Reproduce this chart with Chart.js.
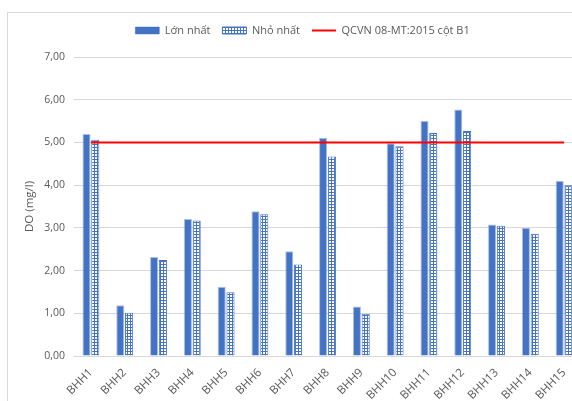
<!DOCTYPE html>
<html>
<head>
<meta charset="utf-8">
<script src="https://cdn.jsdelivr.net/npm/chart.js@4.4.0/dist/chart.umd.min.js"></script>
<style>
  html, body { margin: 0; padding: 0; background: #fff; overflow: hidden; }
  #wrap {
    position: absolute; left: 7px; top: 12px; width: 590px; height: 389px;
    border-left: 1px solid #d9d9d9; border-top: 1px solid #d9d9d9;
  }
</style>
</head>
<body>
<div id="wrap"><canvas id="doChart"></canvas></div>
<script>
// data
const stations = ['BHH1', 'BHH2', 'BHH3', 'BHH4', 'BHH5', 'BHH6', 'BHH7', 'BHH8',
  'BHH9', 'BHH10', 'BHH11', 'BHH12', 'BHH13', 'BHH14', 'BHH15'];
const maxValues = [5.20, 1.19, 2.32, 3.21, 1.62, 3.39, 2.45, 5.11, 1.16, 4.98, 5.50, 5.77, 3.08, 3.00, 4.10];
const minValues = [5.06, 1.01, 2.25, 3.17, 1.49, 3.32, 2.14, 4.67, 0.99, 4.91, 5.22, 5.27, 3.05, 2.86, 4.00];
const limitValue = 5;
const limitLine = stations.map(() => limitValue);
const seriesNames = ['Lớn nhất', 'Nhỏ nhất', 'QCVN 08-MT:2015 cột B1'];

const blue = '#4472C4';
const textColor = '#595959';
const fontFamily = '"Open Sans", "Noto Sans", sans-serif';

// checkered fill for the "min" series
function gridPattern() {
  const tile = document.createElement('canvas');
  tile.width = 3; tile.height = 3;
  const t = tile.getContext('2d');
  t.fillStyle = '#ffffff';
  t.fillRect(0, 0, 3, 3);
  t.fillStyle = blue;
  t.fillRect(2, 0, 1, 3);
  t.fillRect(0, 2, 3, 1);
  return t.createPattern(tile, 'repeat');
}

// more room under the legend, and nudge it a little to the right
const legendTweak = {
  id: 'legendTweak',
  afterInit(chart) {
    const lg = chart.legend;
    const fit = lg.fit;
    lg.fit = function () {
      fit.call(this);
      this.height += 11;
    };
    const draw = lg.draw;
    lg.draw = function () {
      this.ctx.save();
      this.ctx.translate(8, 0);
      draw.call(this);
      this.ctx.restore();
    };
  }
};

const ctx = document.getElementById('doChart').getContext('2d');
const legendStyles = ['rect', 'rect', 'line'];

new Chart(ctx, {
  type: 'bar',
  data: {
    labels: stations,
    datasets: [{
      label: seriesNames[0],
      data: maxValues,
      backgroundColor: blue,
      borderColor: 'rgba(68,114,196,0.45)',
      borderWidth: 1,
      categoryPercentage: 0.52,
      barPercentage: 0.92,
      order: 1
    }, {
      label: seriesNames[1],
      data: minValues,
      backgroundColor: gridPattern(),
      borderColor: blue,
      borderWidth: 1,
      categoryPercentage: 0.52,
      barPercentage: 0.92,
      order: 1
    }, {
      type: 'line',
      label: seriesNames[2],
      data: limitLine,
      borderColor: '#ff0000',
      backgroundColor: '#ff0000',
      borderWidth: 2,
      pointRadius: 0,
      fill: false,
      order: 0
    }]
  },
  plugins: [legendTweak],
  options: {
    responsive: true,
    maintainAspectRatio: false,
    animation: false,
    layout: { padding: { top: 0, left: 0, right: 17, bottom: 0 } },
    plugins: {
      tooltip: { enabled: false },
      legend: {
        position: 'top',
        labels: {
          color: textColor,
          font: { family: fontFamily, size: 11 },
          usePointStyle: true,
          pointStyleWidth: 24,
          boxHeight: 7,
          padding: 12,
          sort: (a, b) => a.datasetIndex - b.datasetIndex,
          generateLabels: chart => {
            const items = Chart.defaults.plugins.legend.labels.generateLabels(chart);
            items.forEach(it => { it.pointStyle = legendStyles[it.datasetIndex]; });
            return items;
          }
        }
      }
    },
    scales: {
      x: {
        grid: { display: false },
        border: { display: true, color: '#d9d9d9' },
        ticks: {
          color: textColor,
          font: { family: fontFamily, size: 11.5 },
          minRotation: 45,
          maxRotation: 45,
          padding: 2
        },
        afterFit: s => { s.height = 46; }
      },
      y: {
        min: 0,
        max: 7,
        ticks: {
          stepSize: 1,
          color: textColor,
          font: { family: fontFamily, size: 10.5 },
          padding: 9,
          callback: v => v.toFixed(2).replace('.', ',')
        },
        grid: { color: '#d9d9d9', drawTicks: false },
        border: { display: false },
        title: {
          display: true,
          text: 'DO (mg/l)',
          color: textColor,
          font: { family: fontFamily, size: 11.5 },
          padding: { top: 15, bottom: 5 }
        },
        afterFit: s => { s.width = 66; }
      }
    }
  }
});
</script>
</body>
</html>
